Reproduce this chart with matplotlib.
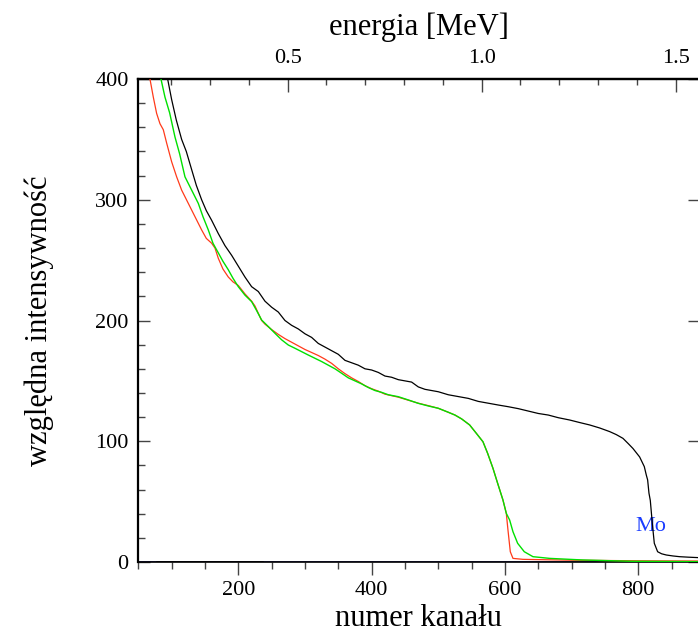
import matplotlib
matplotlib.use("Agg")
import matplotlib.pyplot as plt
from matplotlib.ticker import MultipleLocator, FixedLocator

plt.rcParams['font.family'] = ['Liberation Serif', 'DejaVu Serif']

# ---- data ----
black_ch = [88, 94, 100, 107, 115, 122, 130, 137, 145, 152, 160, 170, 180, 190, 200,
            210, 220, 230, 240, 250, 260, 270, 280, 290, 300, 310, 320, 330, 340, 350,
            360, 370, 380, 390, 400, 410, 420, 430, 440, 450, 460, 470, 480, 490, 500,
            515, 530, 545, 560, 575, 590, 605, 620, 635, 650, 665, 680, 697, 712, 727,
            742, 757, 767, 777, 785, 792, 802, 809, 812, 814, 816, 818, 821, 824, 829,
            835, 842, 852, 862, 875, 891]
black_v = [418, 400, 383, 366, 350, 340, 325, 312, 300, 291, 283, 272, 262, 254, 245,
           236, 228, 224, 216, 211, 207, 200, 196, 193, 189, 186, 181, 178, 175, 172,
           167, 165, 163, 160, 159, 157, 154, 153, 151, 150, 149, 145, 143, 142, 141,
           138.5, 137, 135.5, 133, 131.5, 130, 128.6, 127, 125, 123, 121.7, 119.5, 117.6, 115.5, 113.5,
           111, 108, 105.5, 102.4, 98, 94, 87, 79, 72, 68, 57, 51, 32, 15.5, 8.5,
           6.8, 5.8, 5.0, 4.4, 4.0, 3.6]

green_ch = [80, 84, 90, 97, 105, 112, 120, 130, 140, 147, 155, 162, 170, 177, 185, 192,
            200, 210, 220, 227, 235, 245, 255, 265, 275, 285, 295, 305, 315, 325, 335,
            345, 355, 365, 375, 385, 395, 405, 415, 425, 440, 455, 470, 485, 500, 515,
            525, 535, 547, 557, 567, 574, 582, 589, 597, 602, 607, 612, 619, 629, 642,
            667, 716, 790, 891]
green_v = [415, 400, 385, 372, 352, 338, 319, 308, 297, 286, 275, 264, 256, 249, 242, 235,
           228, 221, 215.6, 208.7, 200.4, 195, 189.4, 184, 179.7, 177, 174.2, 171.4, 168.7, 166, 163,
           160, 156.3, 152.5, 150, 147.5, 144.5, 142, 140.5, 138.5, 136.9, 134.2, 131.4, 129.2, 127.3, 124,
           121.7, 118.5, 113.5, 106.6, 99.6, 90, 77.6, 65.2, 51.3, 40.3, 34.8, 25.1, 15.5, 8.5, 4.4,
           3.0, 1.7, 0.6, 0.3]

red_ch = [62, 67.5, 72.5, 77.5, 82.5, 87.5, 92.5, 100, 107.5, 115, 125, 135, 145, 152, 160,
          165, 170, 177, 185, 192, 200, 210, 220, 225, 230, 235, 240, 250, 260, 270, 280,
          290, 300, 310, 320, 330, 340, 350, 360, 370, 380, 390, 400, 410, 420, 440, 455,
          470, 485, 500, 515, 525, 535, 547, 557, 567, 574, 582, 589, 597, 602, 604.5, 608,
          612, 627, 700, 800, 891]
red_v = [420, 400, 385, 371.5, 363, 358, 347, 331.5, 319, 308, 297, 286, 275, 268, 264,
         260, 251.5, 242.6, 236, 232, 229, 222, 216, 212, 206, 200, 197, 192.5, 188.5, 185, 182,
         179, 176, 173.5, 171, 168, 164.5, 160, 156, 152.5, 149.5, 146, 143.5, 141.5, 139, 136.5, 134,
         131.5, 129.5, 127.3, 124, 121.7, 118.5, 113.5, 106.6, 99.6, 90, 77.6, 65.2, 51.3, 40.3, 26.5, 8.5,
         3.0, 2.2, 1.5, 1.0, 0.8]

base_ch = [50, 891.8]
base_v = [0, 0]
blackbase_ch = [78, 236]
blackbase_v = [0, 0]

x_ticks_major = [200, 400, 600, 800]
y_ticks_major = [0, 100, 200, 300, 400]
e_ticks_major = [0.5, 1.0, 1.5]
e_labels = ['0.5', '1.0', '1.5']

label_text = 'Mo'
label_ch, label_v = 819, 29.8

# energy calibration (channel <-> MeV)
def ch2e(c):
    return (c + 17.0) / 582.0

def e2ch(e):
    return e * 582.0 - 17.0

W, H = 698, 637
fig = plt.figure(figsize=(W / 100, H / 100), dpi=100)
left_px, right_px, top_px, bot_px = 138.3, 699.5, 79, 562
ax = fig.add_axes([left_px / W, 1 - bot_px / H, (right_px - left_px) / W, (bot_px - top_px) / H])

ax.plot(base_ch, base_v, color='#000080', lw=1.8, zorder=2)
ax.plot(blackbase_ch, blackbase_v, color='black', lw=1.8, zorder=3)
ax.plot(red_ch, red_v, color='#ff3a1a', lw=0.9, zorder=4)
ax.plot(green_ch, green_v, color='#00e000', lw=1.0, zorder=5)
ax.plot(black_ch, black_v, color='black', lw=0.9, zorder=6)

ax.text(label_ch, label_v, label_text, color='#1a3cff', fontsize=16, ha='center', va='center')

ax.set_xlim(50, 891.8)
ax.set_ylim(0, 400)

for s in ['top', 'left', 'right']:
    ax.spines[s].set_linewidth(1.6)
ax.spines['bottom'].set_linewidth(1.2)

tick_col = '#444444'
ax.xaxis.set_major_locator(FixedLocator(x_ticks_major))
ax.xaxis.set_minor_locator(MultipleLocator(50))
ax.yaxis.set_major_locator(FixedLocator(y_ticks_major))
ax.yaxis.set_minor_locator(MultipleLocator(20))

ax.tick_params(axis='x', which='major', direction='out', length=9.5, width=1, color=tick_col,
               labelsize=16, pad=4)
ax.tick_params(axis='x', which='minor', direction='out', length=5, width=1, color=tick_col)
ax.tick_params(axis='y', which='major', direction='in', length=8.5, width=1, color=tick_col,
               labelsize=16, pad=7, right=True)
ax.tick_params(axis='y', which='minor', direction='in', length=4.8, width=1, color=tick_col)

ax.yaxis.set_tick_params(which='minor', right=False)

ax.set_xlabel('numer kanału', fontsize=22, labelpad=3)
ax.set_ylabel('względna intensywność', fontsize=22, labelpad=30)

sec = ax.secondary_xaxis('top', functions=(ch2e, e2ch))
sec.xaxis.set_major_locator(FixedLocator(e_ticks_major))
sec.set_xticklabels(e_labels)
sec.xaxis.set_minor_locator(MultipleLocator(0.1))
sec.tick_params(axis='x', which='major', direction='in', length=9, width=1, color=tick_col,
                labelsize=16, pad=8)
sec.tick_params(axis='x', which='minor', direction='in', length=4.5, width=1, color=tick_col)
sec.spines['top'].set_linewidth(1.6)
sec.set_xlabel('energia [MeV]', fontsize=22, labelpad=10)

fig.savefig('out.png', dpi=100)
